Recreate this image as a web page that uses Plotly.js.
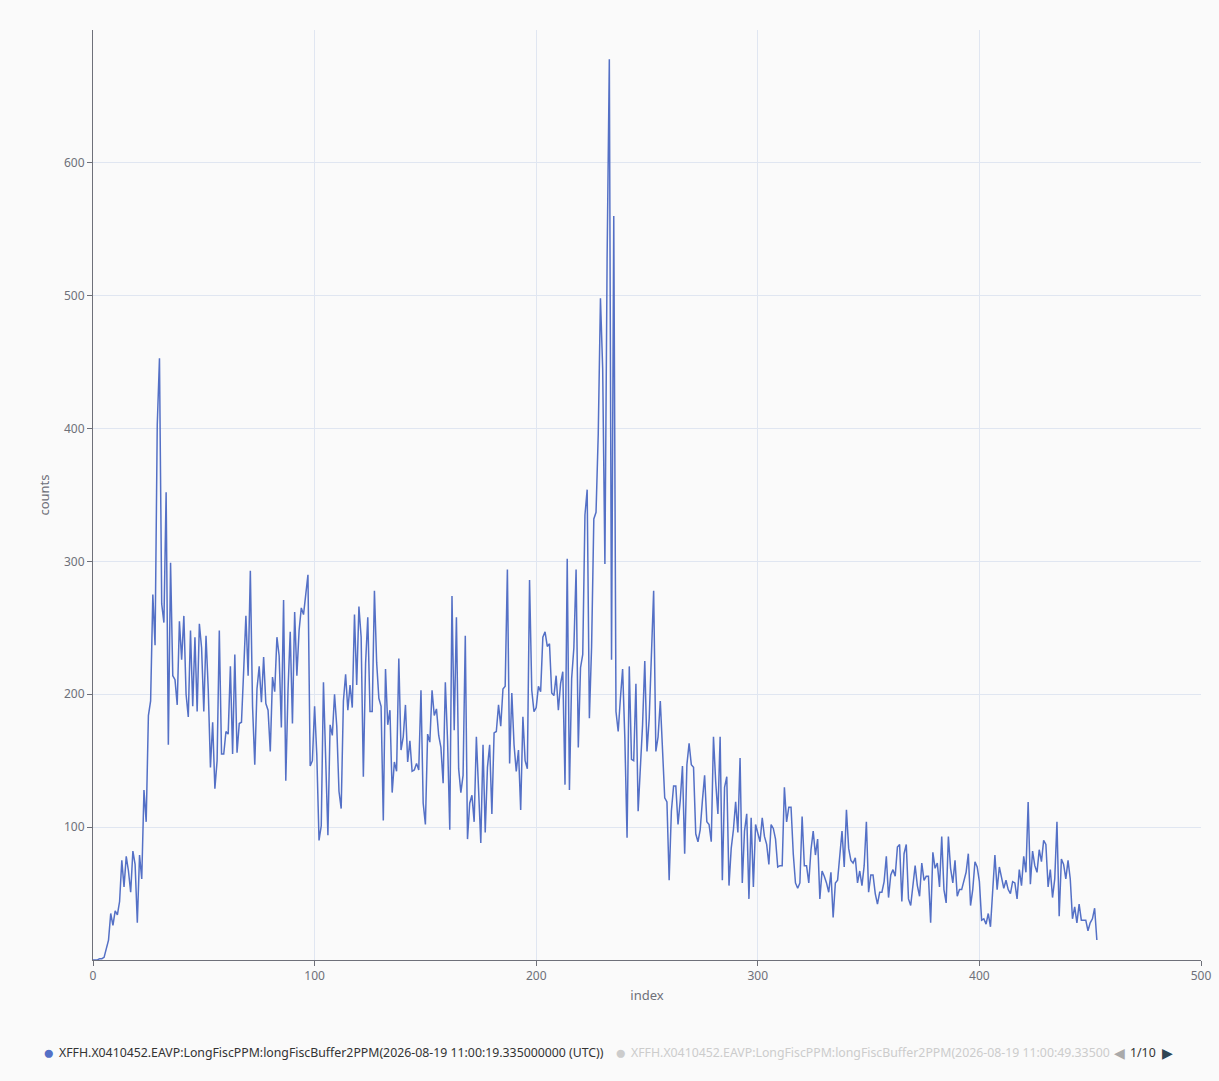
<!DOCTYPE html>
<html>
<head>
<meta charset="utf-8">
<script src="https://cdn.plot.ly/plotly-3.0.1.min.js"></script>
<style>
  html, body { margin: 0; padding: 0; background: #fafafa; }
  #chart { width: 1219px; height: 1081px; }
</style>
</head>
<body>
<div id="chart"></div>
<script>
// counts, split by index range
const counts0to53 = [0, 0, 0, 1, 1, 2, 8, 15, 35, 26, 37, 34, 44, 75, 55, 78, 67, 51, 82, 72, 28, 79, 61,
  128, 104, 184, 195, 275, 237, 403, 453, 268, 254, 352, 162, 299, 214, 211, 192, 255, 226, 259, 200,
  183, 248, 191, 243, 187, 253, 235, 187, 244, 204, 145];
const counts54to101 = [179, 129, 150, 248, 155, 155, 172, 170, 221, 155, 230, 156, 178, 179, 218, 259,
  214, 293, 191, 147, 204, 221, 194, 228, 193, 188, 157, 213, 202, 243, 229, 175, 271, 135, 203, 247,
  178, 262, 214, 248, 265, 260, 275, 290, 146, 150, 191, 154];
const counts102to152 = [90, 101, 209, 142, 94, 177, 169, 200, 176, 127, 114, 195, 215, 188, 207, 190,
  260, 207, 266, 243, 138, 223, 258, 187, 187, 278, 224, 197, 191, 105, 219, 177, 188, 126, 149, 142,
  227, 158, 168, 192, 149, 165, 142, 143, 148, 143, 203, 118, 102, 170, 164];
const counts153to201 = [203, 184, 189, 169, 160, 133, 209, 165, 98, 274, 173, 258, 144, 126, 139, 244,
  91, 118, 124, 104, 168, 128, 88, 162, 96, 145, 162, 110, 171, 172, 192, 176, 204, 206, 294, 148, 201,
  162, 142, 158, 113, 183, 150, 144, 286, 203, 187, 190, 206];
const counts202to256 = [202, 243, 247, 236, 238, 201, 199, 214, 188, 208, 217, 132, 302, 128, 212, 235,
  294, 160, 220, 230, 335, 354, 182, 236, 332, 337, 396, 498, 445, 298, 528, 678, 226, 560, 187, 172,
  197, 219, 167, 92, 221, 151, 150, 208, 112, 146, 177, 225, 157, 182, 238, 278, 157, 168, 195];
const counts257to310 = [157, 122, 119, 60, 112, 131, 131, 102, 120, 146, 80, 147, 163, 147, 145, 95, 89,
  98, 120, 139, 104, 102, 89, 168, 134, 110, 168, 60, 130, 138, 56, 84, 98, 119, 96, 152, 58, 97, 110,
  46, 107, 55, 102, 96, 89, 107, 93, 87, 72, 102, 99, 91, 70, 71];
const counts311to361 = [71, 130, 104, 115, 115, 80, 58, 54, 58, 108, 71, 71, 58, 83, 97, 79, 91, 46, 67,
  63, 58, 51, 66, 32, 58, 60, 79, 97, 70, 113, 84, 75, 73, 77, 58, 67, 56, 71, 104, 51, 64, 64, 50, 42,
  51, 51, 59, 78, 47, 64, 68];
const counts362to413 = [63, 85, 87, 44, 80, 87, 46, 41, 56, 71, 56, 48, 73, 60, 63, 63, 28, 81, 69, 73,
  55, 93, 53, 43, 93, 69, 58, 75, 48, 53, 53, 60, 66, 80, 41, 53, 74, 70, 59, 30, 31, 27, 35, 25, 53,
  79, 53, 70, 62, 54, 60, 53];
const counts414to453 = [50, 59, 58, 46, 68, 56, 78, 66, 119, 57, 82, 71, 66, 83, 74, 90, 87, 55, 68, 47,
  61, 104, 33, 76, 72, 61, 75, 61, 31, 40, 28, 42, 30, 30, 30, 22, 28, 31, 39, 15];

const counts = [].concat(counts0to53, counts54to101, counts102to152, counts153to201, counts202to256,
  counts257to310, counts311to361, counts362to413, counts414to453);
const index = counts.map((_, i) => i);

const xTicks = [0, 100, 200, 300, 400, 500];
const yTicks = [100, 200, 300, 400, 500, 600];

const seriesName = 'XFFH.X0410452.EAVP:LongFiscPPM:longFiscBuffer2PPM(2026-08-19 11:00:19.335000000 (UTC))';
const hiddenName = 'XFFH.X0410452.EAVP:LongFiscPPM:longFiscBuffer2PPM(2026-08-19 11:00:49.33500';
const pageLabel = '1/10';

const W = 1219, H = 1081;
const margin = { l: 93, r: 18, t: 30, b: 121 };
const plotW = W - margin.l - margin.r;
const plotH = H - margin.t - margin.b;
// pixel -> paper helpers for the legend row
const px = x => (x - margin.l) / plotW;
const py = y => (H - margin.b - y) / plotH;

const axisGrey = '#6e7079';
const font = 'Noto Sans, sans-serif';

const data = [{
  type: 'scatter',
  mode: 'lines',
  x: index,
  y: counts,
  name: seriesName,
  line: { color: '#5470c6', width: 1.5 },
  hoverinfo: 'x+y'
}];

const legendY = py(1052);
const annotations = [
  { text: '●', x: px(41), y: legendY, font: { color: '#5470c6', size: 19 } },
  { text: seriesName, x: px(57), y: legendY, font: { color: '#333333', size: 12.3 } },
  { text: '●', x: px(613), y: legendY, font: { color: '#cccccc', size: 19 } },
  { text: hiddenName, x: px(629), y: legendY, font: { color: '#cccccc', size: 12.3 } },
  { text: '◀', x: px(1112), y: legendY, font: { color: '#aaaaaa', size: 14 } },
  { text: pageLabel, x: px(1128), y: legendY, font: { color: '#333333', size: 12.3 } },
  { text: '▶', x: px(1160), y: legendY, font: { color: '#2f4554', size: 14 } }
].map(a => Object.assign({ xref: 'paper', yref: 'paper', xanchor: 'left', yanchor: 'middle', showarrow: false }, a));

const layout = {
  width: W,
  height: H,
  margin: margin,
  paper_bgcolor: '#fafafa',
  plot_bgcolor: '#fafafa',
  font: { family: font, color: axisGrey, size: 12 },
  showlegend: false,
  xaxis: {
    range: [0, 500],
    tickvals: xTicks,
    ticks: 'outside',
    ticklen: 5,
    tickcolor: axisGrey,
    showline: true,
    linecolor: axisGrey,
    linewidth: 1,
    showgrid: true,
    gridcolor: '#e0e6f1',
    zeroline: false,
    title: { text: 'index', font: { size: 13, color: axisGrey }, standoff: 7 }
  },
  yaxis: {
    range: [0, 700],
    tickvals: yTicks,
    ticks: 'outside',
    ticklen: 5,
    tickcolor: axisGrey,
    showline: true,
    linecolor: axisGrey,
    linewidth: 1,
    showgrid: true,
    gridcolor: '#e0e6f1',
    zeroline: false,
    title: { text: 'counts', font: { size: 13, color: axisGrey }, standoff: 11 }
  },
  annotations: annotations
};

Plotly.newPlot('chart', data, layout, { displayModeBar: false, responsive: false });
</script>
</body>
</html>
